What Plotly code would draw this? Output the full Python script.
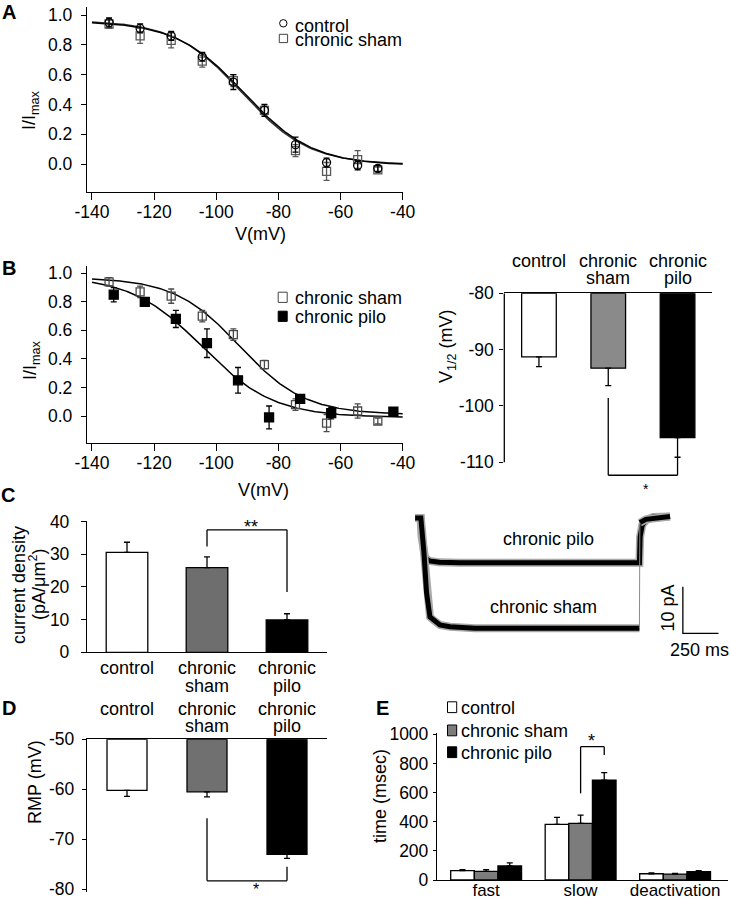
import numpy as np
import plotly.graph_objects as go

FONT = "Liberation Sans, Arial, Helvetica, sans-serif"
W, H = 730, 900

# ---------------- data ----------------
# Panel A: steady-state activation, control vs chronic sham
V_A = [-134.5, -124.5, -114.5, -104.5, -94.5, -84.5, -74.5, -64.5, -54.5, -48.0]
A_control = [0.95, 0.91, 0.86, 0.72, 0.55, 0.36, 0.13, 0.01, -0.01, -0.03]
A_control_err = [0.03, 0.03, 0.03, 0.03, 0.05, 0.04, 0.05, 0.03, 0.03, 0.02]
A_sham = [0.94, 0.86, 0.83, 0.69, 0.56, 0.36, 0.09, -0.05, 0.03, -0.04]
A_sham_err = [0.03, 0.05, 0.05, 0.04, 0.04, 0.03, 0.04, 0.06, 0.06, 0.02]
# Boltzmann fits: (amplitude, bottom, V1/2, slope k)
A_control_fit = (0.97, -0.010, -91.0, 11.0)
A_sham_fit = (0.97, -0.005, -91.8, 10.8)

# Panel B (left): chronic sham vs chronic pilo
V_B_sham = [-134.5, -124.5, -114.5, -104.5, -94.5, -84.5, -74.5, -64.5, -54.5, -48.0]
B_sham = [0.94, 0.87, 0.84, 0.70, 0.57, 0.36, 0.08, -0.05, 0.035, -0.035]
B_sham_err = [0.03, 0.04, 0.05, 0.04, 0.04, 0.03, 0.04, 0.06, 0.05, 0.02]
V_B_pilo = [-133, -123, -113, -103, -93, -83, -73, -63, -43]
B_pilo = [0.85, 0.80, 0.68, 0.51, 0.25, -0.01, 0.12, 0.02, 0.03]
B_pilo_err = [0.05, 0.03, 0.06, 0.10, 0.09, 0.08, 0.03, 0.04, 0.01]
B_sham_fit = (0.96, 0.010, -92.5, 10.5)
B_pilo_fit = (0.99, -0.010, -104.5, 11.5)
fit_V_range = (-140, -40)

V_ticks = [-140, -120, -100, -80, -60, -40]
V_ticktext = ["-140", "-120", "-100", "-80", "-60", "-40"]
I_ticks = [0.0, 0.2, 0.4, 0.6, 0.8, 1.0]
I_ticktext = ["0.0", "0.2", "0.4", "0.6", "0.8", "1.0"]

groups = ["control", "chronic sham", "chronic pilo"]

# Panel B (right): V1/2
V_half = [-91.3, -93.3, -105.6]
V_half_err = [1.7, 3.1, 3.5]
V_half_base = -80
V_half_ticks = [-80, -90, -100, -110]
V_half_ticktext = ["-80", "-90", "-100", "-110"]

# Panel C (left): current density
current_density = [30.6, 25.9, 9.9]
current_density_err = [3.1, 3.3, 1.9]
cd_ticks = [0, 10, 20, 30, 40]

# Panel C (right): example current traces (time in ms, current in pA)
pilo_t = [-20, 18, 25, 35, 50, 80, 150, 300, 800, 1555, 1560, 1575, 1600, 1650, 1770]
pilo_i = [0.0, 0.0, -4.0, -7.0, -8.5, -9.2, -9.5, -9.6, -9.6, -9.6, -4.0, -1.5, -0.5, 0.2, 0.3]
sham_t = [-20, 20, 42, 60, 84, 105, 154, 225, 400, 1555, 1558, 1600, 1770]
sham_i = [0.0, 0.0, -7.5, -16.0, -21.2, -21.8, -22.9, -23.3, -23.6, -23.6, -1.0, -0.3, 0.3]
sham_step_end = 9  # index of last point before the return to baseline
scalebar_t0, scalebar_i0 = 1860, -24.7
scalebar_dt, scalebar_di = 250, 10

# Panel D: resting membrane potential
RMP = [-60.2, -60.5, -73.0]
RMP_err = [1.2, 1.0, 0.8]
RMP_base = -50
RMP_ticks = [-50, -60, -70, -80]
RMP_ticktext = ["-50", "-60", "-70", "-80"]

# Panel E: time constants
kinetics = ["fast", "slow", "deactivation"]
tau_control = [64, 382, 43]
tau_control_err = [7, 48, 5]
tau_sham = [59, 389, 41]
tau_sham_err = [12, 57, 5]
tau_pilo = [96, 686, 57]
tau_pilo_err = [21, 51, 7]
tau_ticks = [0, 200, 400, 600, 800, 1000]

# ---------------- helpers ----------------
def px(x):
    return x / W


def py(y):
    return 1 - y / H


def boltz(V, p):
    amp, bottom, v12, k = p
    V = np.asarray(V, float)
    return bottom + amp / (1.0 + np.exp((V - v12) / k))


fig = go.Figure()
fit_V = np.linspace(fit_V_range[0], fit_V_range[1], 201)

ERR = dict(type="data", thickness=1.3, width=3)

def curve(p, xa, ya, color="black"):
    fig.add_trace(go.Scatter(x=fit_V, y=boltz(fit_V, p), mode="lines",
                             line=dict(color=color, width=1.5),
                             xaxis=xa, yaxis=ya, hoverinfo="skip", showlegend=False))


def points(x, y, e, symbol, color, xa, ya, size=8):
    fig.add_trace(go.Scatter(x=x, y=y, mode="markers",
                             marker=dict(symbol=symbol, size=size, color=color,
                                         line=dict(color=color, width=1.3)),
                             error_y=dict(array=e, color=color, **ERR),
                             xaxis=xa, yaxis=ya, showlegend=False))

# Panel A
curve(A_sham_fit, "x", "y", "#333333")
curve(A_control_fit, "x", "y")
points(V_A, A_sham, A_sham_err, "square-open", "#5a5a5a", "x", "y")
points(V_A, A_control, A_control_err, "circle-open", "black", "x", "y")

# Panel B left
curve(B_sham_fit, "x2", "y2")
curve(B_pilo_fit, "x2", "y2")
points(V_B_sham, B_sham, B_sham_err, "square-open", "#4a4a4a", "x2", "y2")
points(V_B_pilo, B_pilo, B_pilo_err, "square", "black", "x2", "y2", size=9)

idx = list(range(len(groups)))

def hanging_bars(vals, errs, base, colors, xa, ya):
    fig.add_trace(go.Bar(x=idx, y=[v - base for v in vals], base=base, width=0.5,
                         marker=dict(color=colors, line=dict(color="black", width=1.3)),
                         xaxis=xa, yaxis=ya, showlegend=False))
    fig.add_trace(go.Scatter(x=idx, y=vals, mode="markers",
                             marker=dict(size=1, color="rgba(0,0,0,0)"),
                             error_y=dict(symmetric=False, array=[0] * len(vals),
                                          arrayminus=errs, color="black", **ERR),
                             xaxis=xa, yaxis=ya, showlegend=False, hoverinfo="skip"))

# Panel B right
hanging_bars(V_half, V_half_err, V_half_base, ["white", "#8a8a8a", "black"], "x3", "y3")

# Panel C left
fig.add_trace(go.Bar(x=idx, y=current_density, width=0.52,
                     marker=dict(color=["white", "#6e6e6e", "black"], line=dict(color="black", width=1.3)),
                     error_y=dict(symmetric=False, array=current_density_err, arrayminus=[0, 0, 0],
                                  color="black", **ERR),
                     xaxis="x4", yaxis="y4", showlegend=False))

# Panel C right traces
for t, i in ((pilo_t, pilo_i), (sham_t[:sham_step_end + 1], sham_i[:sham_step_end + 1]),
             (sham_t[sham_step_end + 1:], sham_i[sham_step_end + 1:])):
    fig.add_trace(go.Scatter(x=t, y=i, mode="lines", line=dict(color="#a8a8a8", width=8),
                             xaxis="x5", yaxis="y5", showlegend=False, hoverinfo="skip"))
    fig.add_trace(go.Scatter(x=t, y=i, mode="lines", line=dict(color="black", width=5),
                             xaxis="x5", yaxis="y5", showlegend=False, hoverinfo="skip"))
fig.add_trace(go.Scatter(x=sham_t[sham_step_end:sham_step_end + 2], y=sham_i[sham_step_end:sham_step_end + 2],
                         mode="lines", line=dict(color="#8a8a8a", width=1),
                         xaxis="x5", yaxis="y5", showlegend=False, hoverinfo="skip"))
fig.add_trace(go.Scatter(x=[scalebar_t0, scalebar_t0, scalebar_t0 + scalebar_dt],
                         y=[scalebar_i0 + scalebar_di, scalebar_i0, scalebar_i0],
                         mode="lines", line=dict(color="black", width=1.3),
                         xaxis="x5", yaxis="y5", showlegend=False, hoverinfo="skip"))

# Panel D
hanging_bars(RMP, RMP_err, RMP_base, ["white", "#707070", "black"], "x6", "y6")

# Panel E
for name, vals, errs, col in (("control", tau_control, tau_control_err, "white"),
                              ("chronic sham", tau_sham, tau_sham_err, "#7c7c7c"),
                              ("chronic pilo", tau_pilo, tau_pilo_err, "black")):
    fig.add_trace(go.Bar(x=list(range(len(kinetics))), y=vals, name=name,
                         marker=dict(color=col, line=dict(color="black", width=1.3)),
                         error_y=dict(symmetric=False, array=errs, arrayminus=[0] * len(vals),
                                      color="black", **ERR),
                         xaxis="x7", yaxis="y7", showlegend=False))

# ---------------- axes ----------------
TF = dict(family=FONT, size=17.5, color="black")
base_ax = dict(showgrid=False, zeroline=False, showline=True, linecolor="black", linewidth=1.3,
               ticks="outside", tickcolor="black", tickwidth=1.3, tickfont=TF, automargin=False)

layout = dict(
    width=W, height=H, autosize=False,
    margin=dict(l=0, r=0, t=0, b=0, pad=0, autoexpand=False),
    plot_bgcolor="white", paper_bgcolor="white", barmode="group", bargap=0.25, bargroupgap=0,
    font=dict(family=FONT, size=18, color="black"), showlegend=False,
    xaxis=dict(base_ax, domain=[px(87), px(403)], range=[-141.6, -39.9], anchor="y",
               tickvals=V_ticks, ticktext=V_ticktext, ticklen=7, ticklabelstandoff=-3),
    yaxis=dict(base_ax, domain=[py(192), py(7)], range=[-0.188, 1.054], anchor="x",
               tickvals=I_ticks, ticktext=I_ticktext, ticklen=5, ticklabelstandoff=5),
    xaxis2=dict(base_ax, domain=[px(87), px(403)], range=[-141.6, -39.9], anchor="y2",
                tickvals=V_ticks, ticktext=V_ticktext, ticklen=7, ticklabelstandoff=-3),
    yaxis2=dict(base_ax, domain=[py(442.7), py(266)], range=[-0.187, 1.051], anchor="x2",
                tickvals=I_ticks, ticktext=I_ticktext, ticklen=5, ticklabelstandoff=5),
    xaxis3=dict(base_ax, domain=[px(504.3), px(712.2)], range=[-0.5, 2.5], anchor="y3", side="top",
                ticks="", showticklabels=False),
    yaxis3=dict(base_ax, domain=[py(479.2), py(293.3)], range=[-113, -80], anchor="x3",
                showline=False, tickvals=V_half_ticks, ticktext=V_half_ticktext, ticklen=4,
                ticklabelstandoff=2),
    xaxis4=dict(base_ax, domain=[px(87), px(327)], range=[-0.5, 2.5], anchor="y4",
                ticks="", showticklabels=False),
    yaxis4=dict(base_ax, domain=[py(652.3), py(521.0)], range=[0, 40.2], anchor="x4",
                tickvals=cd_ticks, ticklen=5, ticklabelstandoff=8),
    xaxis5=dict(visible=False, domain=[px(400), px(725)], range=[-126.4, 2155.9], anchor="y5",
                automargin=False),
    yaxis5=dict(visible=False, domain=[py(660), py(500)], range=[-30.41, 3.85], anchor="x5",
                automargin=False),
    xaxis6=dict(base_ax, domain=[px(87), px(327)], range=[-0.5, 2.5], anchor="y6", side="top",
                ticks="", showticklabels=False),
    yaxis6=dict(base_ax, domain=[py(891.8), py(739.3)], range=[-80.5, -50], anchor="x6",
                tickvals=RMP_ticks, ticktext=RMP_ticktext, ticklen=4, ticklabelstandoff=4),
    xaxis7=dict(base_ax, domain=[px(437), px(728)], range=[-0.52, 2.56], anchor="y7",
                ticks="", tickvals=list(range(len(kinetics))), ticktext=kinetics,
                ticklabelstandoff=-6, tickfont=dict(family=FONT, size=17, color="black")),
    yaxis7=dict(base_ax, domain=[py(880), py(733.3)], range=[0, 1007], anchor="x7",
                tickvals=tau_ticks, ticklen=3, ticklabelstandoff=1),
)
fig.update_layout(**layout)

# ---------------- shapes ----------------
shapes = []
LINE = dict(color="black", width=1.3)

def seg(x0, y0, x1, y1, xref, yref, line=LINE):
    shapes.append(dict(type="line", x0=x0, y0=y0, x1=x1, y1=y1, xref=xref, yref=yref, line=line))

# B right: y axis line spans the tick range only
seg(px(504.3), V_half_ticks[0], px(504.3), V_half_ticks[-1], "paper", "y3")

def bracket(xa, ya, i0, i1, y_left, y_top, y_right):
    seg(i0, y_left, i0, y_top, xa, ya)
    seg(i0, y_top, i1, y_top, xa, ya)
    seg(i1, y_top, i1, y_right, xa, ya)

bracket("x3", "y3", 1, 2, -98.6, -112.3, -109.0)
bracket("x4", "y4", 1, 2, 32.4, 37.5, 18.5)
bracket("x6", "y6", 1, 2, -65.8, -78.3, -75.5)
bracket("x7", "y7", 1.0, 1.25, 595, 915, 858)

# legend swatches
def rect(x0, y0, x1, y1, fill, line_color="black"):
    shapes.append(dict(type="rect", xref="paper", yref="paper", x0=px(x0), x1=px(x1),
                       y0=py(y1), y1=py(y0), fillcolor=fill, line=dict(color=line_color, width=1)))

shapes.append(dict(type="circle", xref="paper", yref="paper", x0=px(279.6), x1=px(287.0),
                   y0=py(27.0), y1=py(19.6), line=dict(color="black", width=1)))
rect(279.3, 34.3, 287.6, 42.6, "white", "#444444")
rect(278.2, 292.2, 287.2, 302.4, "white", "#444444")
rect(278.2, 311.2, 287.2, 321.4, "black")
rect(447.5, 701.8, 456.7, 712.6, "white")
rect(447.5, 725.0, 456.7, 735.8, "#7c7c7c")
rect(447.5, 746.8, 456.7, 757.6, "black")
fig.update_layout(shapes=shapes)

# ---------------- annotations ----------------
anns = []

def ann(text, x, y, xref="paper", yref="paper", size=18, angle=0, xanchor="center",
        yanchor="middle", bold=False):
    if xref == "paper":
        x = px(x)
    if yref == "paper":
        y = py(y)
    anns.append(dict(text=f"<b>{text}</b>" if bold else text, x=x, y=y, xref=xref, yref=yref,
                     showarrow=False, textangle=angle, xanchor=xanchor, yanchor=yanchor,
                     font=dict(family=FONT, size=size, color="black")))

# panel letters
for L, x, y in (("A", 9, 12), ("B", 8.5, 268), ("C", 8, 495), ("D", 9, 708), ("E", 382.5, 708)):
    ann(L, x, y, size=20, bold=True)

# axis titles
ann("V(mV)", 260, 234)
ann("V(mV)", 263, 490)
ann("I/I<sub>max</sub>", 30, 110, angle=-90)
ann("I/I<sub>max</sub>", 31, 360, angle=-90)
ann("V<sub>1/2</sub> (mV)", 448, 346, angle=-90)
ann("current density", 19, 585, angle=-90)
ann("(pA/μm<sup>2</sup>)", 37, 585, angle=-90)
ann("RMP (mV)", 35, 782, angle=-90)
ann("time (msec)", 380, 796, angle=-90)

# legends
ann("control", 293, 26, xanchor="left")
ann("chronic sham", 293, 40, xanchor="left")
ann("chronic sham", 293, 298, xanchor="left")
ann("chronic pilo", 293, 317, xanchor="left")
ann("control", 459, 707.5, xanchor="left")
ann("chronic sham", 459, 731, xanchor="left")
ann("chronic pilo", 459, 753, xanchor="left")

# category labels
def cat_labels(xref, y_first, y_second):
    for k, g in enumerate(groups):
        words = g.split(" ")
        ann(words[0], k, y_first, xref=xref)
        if len(words) > 1:
            ann(words[1], k, y_second, xref=xref)

cat_labels("x3", 261, 277.5)
cat_labels("x4", 668, 686)
cat_labels("x6", 708.5, 725.5)

# significance marks
ann("*", 1.55, 489, xref="x3", size=14)
ann("**", 1.55, 527, xref="x4", size=18)
ann("*", 1.61, 899.5, xref="x6", size=16, yanchor="bottom")
ann("*", 1.12, 741, xref="x7", size=18)

# trace labels and scale bar text
ann("chronic pilo", 548, 539)
ann("chronic sham", 543, 607)
ann("10 pA", 667.5, 608, angle=-90)
ann("250 ms", 699, 650)

fig.update_layout(annotations=anns)
fig.write_html("out.html", config={"displayModeBar": False},
               post_script="document.body.style.margin='0px';")
